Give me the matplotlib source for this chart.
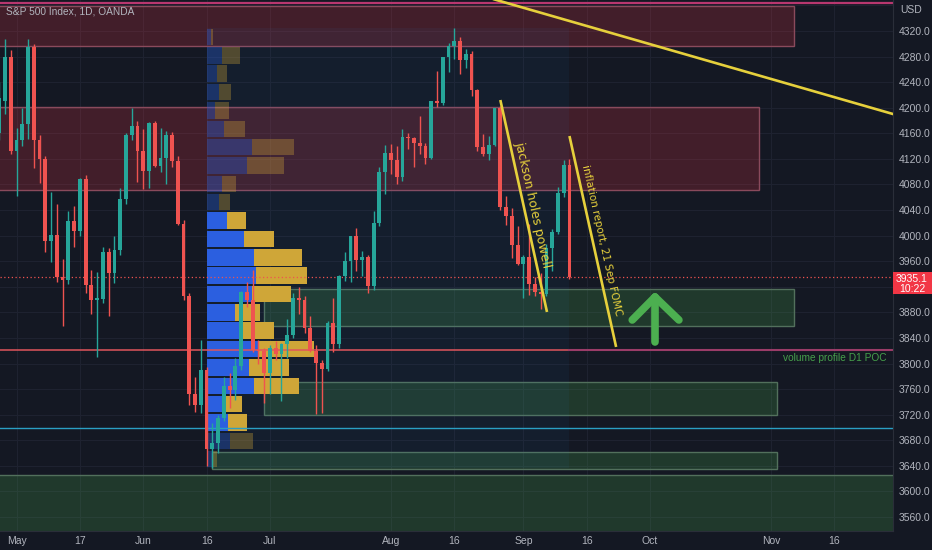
import matplotlib
matplotlib.use('Agg')
import matplotlib.pyplot as plt
from matplotlib.patches import Rectangle
import matplotlib.transforms as mtransforms
import numpy as np
import pandas as pd

plt.rcParams['font.family'] = ['Liberation Sans', 'DejaVu Sans']

# ---------------- data ----------------
first_date = '2022-04-27'
base_date = '2022-05-02'
opens = [4160, 4210, 4280, 4132, 4150, 4175, 4295, 4150, 4120, 3991, 4001, 3935, 3930, 4023, 4008,
         4088, 3923, 3900, 3901, 3974, 3941, 3978, 4057, 4158, 4172, 4132, 4101, 4176, 4109, 4121,
         4158, 4116, 4018, 3905, 3752, 3735, 3790, 3667, 3675, 3715, 3765, 3758, 3796, 3912, 3900,
         3821, 3819, 3785, 3825, 3815, 3831, 3845, 3903, 3899, 3855, 3819, 3801, 3791, 3863, 3831,
         3937, 3960, 3999, 3962, 3967, 3921, 4020, 4100, 4130, 4119, 4091, 4155, 4152, 4145, 4140,
         4122, 4210, 4207, 4280, 4297, 4305, 4275, 4284, 4228, 4138, 4128, 4141, 4199, 4045, 4031,
         3986, 3955, 3967, 3924, 3912, 3909, 3980, 4006, 4067, 4110]
highs = [4240, 4308, 4290, 4169, 4200, 4308, 4300, 4158, 4125, 4068, 4050, 3964, 4038, 4046, 4090,
         4095, 3946, 3943, 3982, 3980, 3999, 4075, 4160, 4200, 4180, 4166, 4177, 4180, 4169, 4164,
         4162, 4125, 4025, 3910, 3779, 3837, 3795, 3707, 3720, 3779, 3785, 3809, 3913, 3928, 3946,
         3837, 3825, 3829, 3835, 3832, 3870, 3910, 3919, 3905, 3874, 3829, 3806, 3866, 3902, 3939,
         3975, 3999, 4012, 3976, 3970, 4039, 4108, 4141, 4144, 4140, 4167, 4161, 4155, 4187, 4145,
         4211, 4257, 4280, 4301, 4325, 4310, 4292, 4288, 4230, 4159, 4156, 4200, 4203, 4062, 4044,
         4015, 3970, 4018, 3935, 3942, 3987, 4010, 4076, 4119, 4120]
lows = [4150, 4190, 4128, 4062, 4140, 4151, 4106, 4082, 3975, 3958, 3928, 3859, 3925, 3983, 4000,
        3911, 3877, 3810, 3895, 3875, 3926, 3970, 4050, 4150, 4084, 4073, 4074, 4107, 4100, 4080,
        4107, 4017, 3900, 3735, 3724, 3723, 3639, 3636, 3660, 3710, 3730, 3743, 3790, 3889, 3818,
        3800, 3738, 3752, 3805, 3742, 3809, 3840, 3877, 3847, 3818, 3721, 3723, 3788, 3818, 3825,
        3929, 3927, 3945, 3937, 3911, 3915, 4015, 4065, 4096, 4080, 4085, 4136, 4107, 4128, 4112,
        4120, 4201, 4205, 4256, 4277, 4253, 4262, 4219, 4132, 4124, 4119, 4140, 4040, 4017, 3965,
        3954, 3903, 3907, 3905, 3886, 3906, 3945, 4002, 4060, 3932]
closes = [4215, 4280, 4132, 4150, 4175, 4295, 4150, 4120, 3991, 4001, 3935, 3930, 4023, 4008, 4088,
          3923, 3900, 3901, 3974, 3941, 3978, 4057, 4158, 4172, 4132, 4101, 4176, 4109, 4121, 4158,
          4116, 4018, 3905, 3752, 3735, 3790, 3667, 3675, 3715, 3765, 3758, 3796, 3912, 3900, 3821,
          3819, 3785, 3825, 3815, 3831, 3845, 3903, 3899, 3855, 3819, 3801, 3791, 3863, 3831, 3937,
          3960, 3999, 3962, 3967, 3921, 4020, 4100, 4130, 4119, 4091, 4155, 4152, 4145, 4140, 4122,
          4210, 4207, 4280, 4297, 4305, 4275, 4284, 4228, 4138, 4128, 4141, 4199, 4045, 4031, 3986,
          3955, 3967, 3924, 3912, 3909, 3980, 4006, 4067, 4110, 3935.1]

tick_dates = ['2022-05-02', '2022-05-17', '2022-06-01', '2022-06-16', '2022-07-01', '2022-08-01',
              '2022-08-16', '2022-09-01', '2022-09-16', '2022-10-03', '2022-11-01', '2022-11-16']
tick_labels = ['May', '17', 'Jun', '16', 'Jul', 'Aug', '16', 'Sep', '16', 'Oct', 'Nov', '16']
price_labels = [4320, 4280, 4240, 4200, 4160, 4120, 4080, 4040, 4000, 3960,
                3880, 3840, 3800, 3760, 3720, 3680, 3640, 3600, 3560]
grid_prices = list(range(3560, 4361, 40))
last_price = 3935.1
countdown = '10:22'

# volume profile (fixed range Jun 16 -> Sep 13), rows from top to bottom
vp_start = '2022-06-16'
vp_end = '2022-09-13'
vp_high = 4325
vp_low = 3636
vp_up = [4.0, 15.7, 10.7, 12.3, 8.3, 17.3, 45.0, 40.0, 15.7, 12.3, 20.0, 37.3,
         47.7, 49.0, 45.0, 28.3, 35.0, 51.7, 42.7, 47.7, 19.0, 21.7, 23.3, 5.0]
vp_down = [2.7, 17.7, 9.3, 12.0, 14.0, 21.0, 42.3, 37.3, 13.3, 11.0, 19.3, 30.3,
           48.0, 51.7, 39.3, 25.0, 32.7, 55.7, 39.7, 44.3, 16.7, 18.3, 22.7, 5.7]
value_area_rows = list(range(10, 22))

# user drawings: (bar index from May 2, price)
supply_zones = [(-12, 135.0, 4296.5, 4359.0), (-12, 128.9, 4071.4, 4201.0)]
demand_zones = [(43.0, 135.0, 3858.7, 3916.6), (43.0, 132.0, 3719.5, 3771.1),
                (33.9, 132.0, 3635.1, 3661.7), (-12, 170, 3450.0, 3625.7)]
top_line_price = 4364
poc_price = 3821.2
cyan_price = 3699.4
long_trend = [(70, 4403.0), (160, 4169.9)]
jackson_line = [(84.0, 4212.1), (92.1, 3880.6)]
inflation_line = [(96.0, 4155.8), (104.1, 3825.9)]
arrow_tip = (110.85, 3904.0)
arrow_tail = (110.85, 3833.7)
arrow_wings = [(106.9, 3868.1), (115.0, 3868.1)]

# ---------------- figure ----------------
BG = '#141823'
TXT = '#b2b5be'
fig = plt.figure(figsize=(9.32, 5.5), dpi=100, facecolor=BG)
ax = fig.add_axes([0, 19 / 550, 893 / 932, 531 / 550])
ax.set_facecolor(BG)
ax.set_xlim(-2.865, 152.17)
ax.set_ylim(3538.1, 4368.5)

dates = pd.bdate_range(first_date, periods=len(closes))
base = np.datetime64(base_date)
xs = np.array([np.busday_count(base, np.datetime64(d.date())) for d in dates], dtype=float)
tick_x = [np.busday_count(base, np.datetime64(d)) for d in tick_dates]

# grid
for p in grid_prices:
    ax.axhline(p, color='#1e2230', lw=0.8, zorder=0)
for t in tick_x:
    ax.axvline(t, color='#1e2230', lw=0.8, zorder=0)

# zones
for x0, x1, lo, hi in supply_zones:
    ax.add_patch(Rectangle((x0, lo), x1 - x0, hi - lo, facecolor=(242/255, 54/255, 69/255, 0.21),
                           edgecolor='#8a4a5c', lw=1.0, zorder=1))
for x0, x1, lo, hi in demand_zones:
    ax.add_patch(Rectangle((x0, lo), x1 - x0, hi - lo, facecolor=(76/255, 175/255, 80/255, 0.22),
                           edgecolor='#52705c', lw=1.0, zorder=1))

# volume profile
vx0 = float(np.busday_count(base, np.datetime64(vp_start)))
vx1 = float(np.busday_count(base, np.datetime64(vp_end)))
ax.add_patch(Rectangle((vx0, vp_low), vx1 - vx0, vp_high - vp_low,
                       facecolor=(33/255, 150/255, 243/255, 0.05), edgecolor='none', zorder=1))
nrows = len(vp_up)
rh = (vp_high - vp_low) / nrows
totals = np.array(vp_up) + np.array(vp_down)
scale = 18.65 / totals.max()
for i in range(nrows):
    top = vp_high - i * rh
    yc = top - rh / 2
    a = 1.0 if i in value_area_rows else 0.33
    wu = vp_up[i] * scale
    wd = vp_down[i] * scale
    ax.barh(yc, wu, left=vx0, height=rh * 0.9, color='#2b5fe0', alpha=a, zorder=2, lw=0)
    ax.barh(yc, wd, left=vx0 + wu, height=rh * 0.9, color='#cfa638', alpha=a, zorder=2, lw=0)

# horizontal lines
ax.axhline(top_line_price, color='#b8376f', lw=1.6, zorder=2)
ax.plot([-5, vx1], [poc_price, poc_price], color='#e0555c', lw=1.1, zorder=2)
ax.plot([vx1, 170], [poc_price, poc_price], color='#9a3c68', lw=1.5, zorder=2)
ax.axhline(cyan_price, color='#2a9fc4', lw=1.0, zorder=2)
ax.axhline(last_price, color='#ef5350', lw=0.9, ls=(0, (1, 2)), zorder=2)

# candles
o = np.array(opens, float); h = np.array(highs, float)
l = np.array(lows, float); c = np.array(closes, float)
up = c >= o
cols = np.where(up, '#26a69a', '#ef5350')
ax.vlines(xs, l, h, colors=cols, lw=1.0, zorder=3)
body_lo = np.minimum(o, c)
body_h = np.maximum(np.abs(c - o), 1.8)
ax.bar(xs, body_h, bottom=body_lo, width=0.66, color=cols, lw=0, zorder=3)

# trend lines
yel = '#e6d03c'
for line in (long_trend, jackson_line, inflation_line):
    (xa, ya), (xb, yb) = line
    ax.plot([xa, xb], [ya, yb], color=yel, lw=1.9, zorder=4, solid_capstyle='butt')

ang = -77.5
ax.text(89.67, 4047.9, 'jackson holes powell', rotation=ang, rotation_mode='anchor',
        ha='center', va='center', color=yel, fontsize=9, zorder=5, family='DejaVu Sans')
ax.text(101.65, 3993.2, 'inflation report, 21 Sep FOMC', rotation=ang, rotation_mode='anchor',
        ha='center', va='center', color=yel, fontsize=7.5, zorder=5, family='DejaVu Sans')

# arrow
g = '#4caf50'
ax.plot([arrow_tail[0], arrow_tip[0]], [arrow_tail[1], arrow_tip[1]], color=g, lw=5.5,
        solid_capstyle='round', zorder=5)
for wx, wy in arrow_wings:
    ax.plot([wx, arrow_tip[0]], [wy, arrow_tip[1]], color=g, lw=5.5, solid_capstyle='round', zorder=5)

ax.text(151.1, 3808.7, 'volume profile D1 POC', ha='right', va='center', color='#46a04b',
        fontsize=7.3, zorder=5)

# axes styling
for s in ('top', 'left'):
    ax.spines[s].set_visible(False)
ax.spines['right'].set_color('#2a2e39')
ax.spines['bottom'].set_color('#2a2e39')
ax.yaxis.tick_right()
ax.set_yticks(price_labels)
ax.set_yticklabels([f'{p:.1f}' for p in price_labels])
ax.set_xticks(tick_x)
ax.set_xticklabels(tick_labels)
ax.tick_params(axis='y', length=0, pad=4.0, labelsize=7.5, labelcolor=TXT)
ax.tick_params(axis='x', length=0, pad=3.5, labelsize=7.5, labelcolor=TXT)

# last price tag
tr = mtransforms.blended_transform_factory(ax.transAxes, ax.transData)
ax.add_patch(Rectangle((1.0, 3908.7), 39 / 893, 3943.1 - 3908.7, transform=tr,
                       facecolor='#f23645', edgecolor='none', clip_on=False, zorder=6))
ax.text(1.0 + 19 / 893, 3932.5, f'{last_price:.1f}', transform=tr, ha='center', va='center',
        color='white', fontsize=7.5, clip_on=False, zorder=7)
ax.text(1.0 + 19 / 893, 3916.5, countdown, transform=tr, ha='center', va='center',
        color='white', fontsize=7.5, clip_on=False, zorder=7)

fig.text(900 / 932, 1 - 10 / 550, 'USD', ha='left', va='center', color=TXT, fontsize=7.5)
fig.text(6 / 932, 1 - 12 / 550, 'S&P 500 Index, 1D, OANDA', ha='left', va='center',
         color=TXT, fontsize=7.3)

fig.savefig('out.png', dpi=100, facecolor=BG)
